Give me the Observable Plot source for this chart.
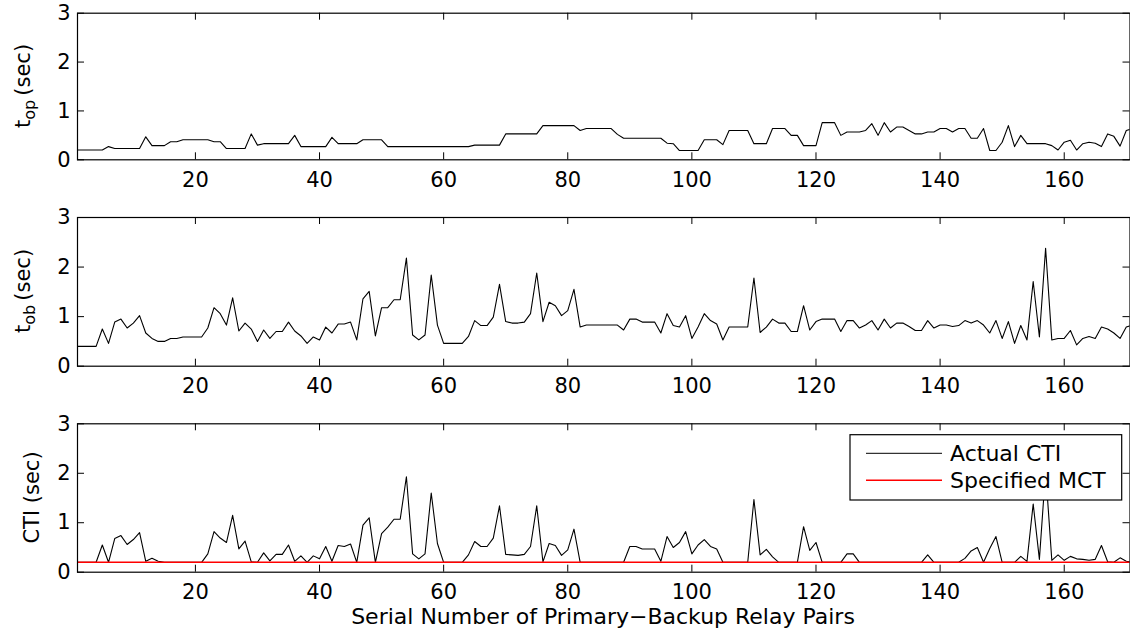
<!DOCTYPE html>
<html><head><meta charset="utf-8">
<script src="https://cdn.jsdelivr.net/npm/d3@7"></script>
<script src="https://cdn.jsdelivr.net/npm/@observablehq/plot@0.6"></script>
<style>
body{margin:0;background:#fff;}
#chart{position:relative;width:1130px;height:632px;font-family:"DejaVu Sans",sans-serif;background:#fff;}
#chart svg{position:absolute;left:0;}
</style></head><body><div id="chart"></div>
<script>
// Serial numbers of primary-backup relay pairs
const pairs = d3.range(1, 172);

// Operating time of primary relays (sec)
const tOp = [
0.20,0.20,0.20,0.20,0.20,0.27,0.23,0.23,0.23,0.23,
0.23,0.47,0.29,0.29,0.29,0.37,0.37,0.41,0.41,0.41,
0.41,0.41,0.37,0.37,0.23,0.23,0.23,0.23,0.53,0.30,
0.33,0.33,0.33,0.33,0.33,0.50,0.27,0.27,0.27,0.27,
0.27,0.46,0.33,0.33,0.33,0.33,0.41,0.41,0.41,0.41,
0.27,0.27,0.27,0.27,0.27,0.27,0.27,0.27,0.27,0.27,
0.27,0.27,0.27,0.27,0.30,0.30,0.30,0.30,0.30,0.53,
0.53,0.53,0.53,0.53,0.53,0.70,0.70,0.70,0.70,0.70,
0.70,0.60,0.64,0.64,0.64,0.64,0.64,0.52,0.44,0.44,
0.44,0.44,0.44,0.44,0.44,0.34,0.33,0.19,0.19,0.19,
0.19,0.41,0.41,0.41,0.31,0.60,0.60,0.60,0.60,0.33,
0.33,0.33,0.64,0.64,0.64,0.50,0.50,0.29,0.29,0.29,
0.76,0.76,0.76,0.50,0.57,0.57,0.57,0.60,0.74,0.50,
0.76,0.57,0.67,0.67,0.60,0.53,0.53,0.57,0.57,0.64,
0.64,0.57,0.64,0.64,0.44,0.44,0.64,0.19,0.19,0.36,
0.70,0.27,0.50,0.33,0.33,0.33,0.33,0.29,0.20,0.36,
0.40,0.20,0.33,0.36,0.34,0.27,0.53,0.48,0.28,0.60,
0.64];

// Operating time of backup relays (sec)
const tOb = [
0.40,0.40,0.40,0.40,0.75,0.46,0.89,0.95,0.77,0.87,
1.02,0.67,0.56,0.50,0.50,0.56,0.56,0.59,0.59,0.59,
0.59,0.77,1.18,1.06,0.83,1.38,0.71,0.87,0.75,0.50,
0.73,0.56,0.70,0.70,0.89,0.71,0.61,0.46,0.59,0.53,
0.79,0.67,0.85,0.85,0.89,0.53,1.36,1.51,0.61,1.18,
1.18,1.34,1.34,2.18,0.63,0.53,0.63,1.84,0.83,0.46,
0.46,0.46,0.46,0.60,0.92,0.82,0.82,0.99,1.65,0.90,
0.87,0.87,0.89,1.06,1.88,0.90,1.29,1.22,1.02,1.12,
1.55,0.79,0.83,0.83,0.83,0.83,0.83,0.83,0.73,0.95,
0.95,0.89,0.89,0.89,0.67,1.06,0.82,0.79,1.02,0.56,
0.79,1.06,0.92,0.85,0.53,0.79,0.79,0.79,0.79,1.78,
0.68,0.79,0.95,0.87,0.87,0.70,0.70,1.22,0.73,0.90,
0.95,0.95,0.95,0.70,0.92,0.92,0.77,0.83,0.92,0.73,
0.95,0.77,0.87,0.87,0.80,0.72,0.72,0.92,0.77,0.83,
0.83,0.80,0.82,0.92,0.87,0.92,0.83,0.67,0.92,0.56,
0.90,0.46,0.82,0.53,1.71,0.59,2.38,0.53,0.56,0.56,
0.72,0.43,0.56,0.60,0.56,0.79,0.75,0.67,0.56,0.79,
0.83];

// Actual coordination time interval (sec)
const cti = [
0.20,0.20,0.20,0.20,0.55,0.20,0.68,0.74,0.56,0.66,
0.80,0.22,0.28,0.22,0.20,0.20,0.20,0.20,0.20,0.20,
0.20,0.37,0.82,0.69,0.60,1.15,0.47,0.63,0.21,0.20,
0.39,0.23,0.36,0.36,0.55,0.22,0.33,0.20,0.33,0.27,
0.52,0.22,0.54,0.52,0.57,0.20,0.95,1.10,0.20,0.78,
0.91,1.07,1.07,1.93,0.37,0.27,0.37,1.60,0.58,0.20,
0.20,0.20,0.20,0.35,0.62,0.52,0.52,0.69,1.34,0.36,
0.35,0.34,0.36,0.52,1.34,0.21,0.58,0.54,0.34,0.45,
0.87,0.20,0.20,0.20,0.20,0.20,0.20,0.20,0.20,0.52,
0.52,0.47,0.47,0.47,0.22,0.72,0.50,0.60,0.82,0.37,
0.55,0.66,0.52,0.47,0.20,0.20,0.20,0.20,0.20,1.47,
0.35,0.46,0.31,0.20,0.20,0.20,0.20,0.92,0.44,0.60,
0.20,0.20,0.20,0.20,0.37,0.37,0.20,0.20,0.20,0.20,
0.20,0.20,0.20,0.20,0.20,0.20,0.20,0.35,0.20,0.20,
0.20,0.20,0.20,0.28,0.43,0.50,0.20,0.48,0.72,0.20,
0.20,0.20,0.32,0.22,1.38,0.26,2.05,0.24,0.35,0.24,
0.32,0.27,0.26,0.24,0.26,0.54,0.21,0.20,0.29,0.22,
0.20];

// Specified minimum coordination time (sec)
const mct = 0.2;

const xTicks = [20, 40, 60, 80, 100, 120, 140, 160];
const yTicks = [0, 1, 2, 3];
const xLabel = "Serial Number of Primary\u2212Backup Relay Pairs";
const legendLabels = ["Actual CTI", "Specified MCT"];

const W = 1130, ML = 77, MR = 0.5, TICK = 7;
const FONT = "DejaVu Sans";

function panel(values, opts) {
  const {top, height, mt, mb, extra = []} = opts;
  const ph = height - mt - mb, pw = W - ML - MR;
  const data = pairs.map((p, i) => ({p, v: values[i]}));
  const svg = Plot.plot({
    width: W, height,
    marginLeft: ML, marginRight: MR, marginTop: mt, marginBottom: mb,
    style: {fontFamily: FONT, fontSize: "20px", background: "white", color: "black", overflow: "visible"},
    x: {domain: [1, 170.6]},
    y: {domain: [0, 3]},
    marks: [
      Plot.lineY(data, {x: "p", y: "v", stroke: "black", strokeWidth: 1.1, clip: true}),
      ...extra,
      Plot.tickX(xTicks, {x: d => d, insetTop: ph - TICK, stroke: "black"}),
      Plot.tickX(xTicks, {x: d => d, insetBottom: ph - TICK, stroke: "black"}),
      Plot.tickY(yTicks, {y: d => d, insetRight: pw - TICK, stroke: "black"}),
      Plot.tickY(yTicks, {y: d => d, insetLeft: pw - TICK, stroke: "black"}),
      Plot.frame({stroke: "black", strokeWidth: 1.2}),
      Plot.axisX({ticks: xTicks, tickSize: 0, tickPadding: 12, label: null, fontSize: 21, tickFormat: d3.format("d")}),
      Plot.axisY({ticks: yTicks, tickSize: 0, tickPadding: 7, label: null, fontSize: 21, tickFormat: d3.format("d")})
    ]
  });
  svg.style.top = top + "px";
  document.getElementById("chart").appendChild(svg);
  return svg;
}

function ylabel(svg, main, sub, rest, x, cy) {
  const t = d3.select(svg).append("text")
    .attr("transform", `translate(${x},${cy}) rotate(-90)`)
    .attr("text-anchor", "middle")
    .attr("font-family", FONT)
    .attr("font-size", 21)
    .attr("fill", "black");
  t.append("tspan").text(main);
  if (sub) {
    t.append("tspan").attr("font-size", 16).attr("dy", 5).text(sub);
    t.append("tspan").attr("dy", -5).text(rest);
  } else {
    t.append("tspan").text(rest);
  }
}

const s1 = panel(tOp, {top: 0, height: 205, mt: 12.7, mb: 45.7});
ylabel(s1, "t", "op", "\u2009(sec)", 30, 86);

const s2 = panel(tOb, {top: 205, height: 207, mt: 12, mb: 46.3});
ylabel(s2, "t", "ob", "\u2009(sec)", 30, 86);

const s3 = panel(cti, {top: 412, height: 220, mt: 11.3, mb: 60.3,
  extra: [Plot.ruleY([mct], {stroke: "#ff0000", strokeWidth: 1.4})]});
ylabel(s3, "CTI (sec)", null, "", 39, 85.5);

// x-axis title
d3.select(s3).append("text")
  .attr("x", 603).attr("y", 212)
  .attr("text-anchor", "middle")
  .attr("font-family", FONT).attr("font-size", 22).attr("fill", "black")
  .text(xLabel);

// legend
const lg = d3.select(s3).append("g");
lg.append("rect").attr("x", 850).attr("y", 22.7).attr("width", 271.7).attr("height", 65.3)
  .attr("fill", "white").attr("stroke", "black").attr("stroke-width", 1.2);
const rows = [{c: "black", y: 41.3}, {c: "#ff0000", y: 68.3}];
rows.forEach((r, i) => {
  lg.append("line").attr("x1", 866).attr("x2", 942).attr("y1", r.y).attr("y2", r.y)
    .attr("stroke", r.c).attr("stroke-width", i ? 1.4 : 1);
  lg.append("text").attr("x", 950).attr("y", r.y + 8)
    .attr("text-anchor", "start")
    .attr("font-family", FONT).attr("font-size", 22).attr("fill", "black")
    .text(legendLabels[i]);
});
</script></body></html>
